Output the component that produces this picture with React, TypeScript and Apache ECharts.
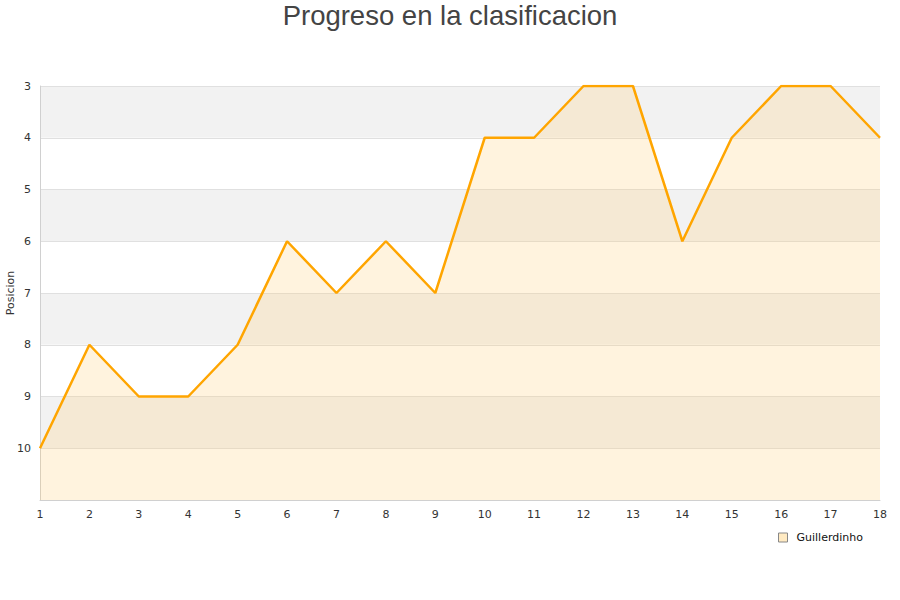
import React, { useEffect, useRef } from "react";
import * as echarts from "echarts";

const jornadas = ["1", "2", "3", "4", "5", "6", "7", "8", "9", "10", "11", "12", "13", "14", "15", "16", "17", "18"];
const posiciones = [10, 8, 9, 9, 8, 6, 7, 6, 7, 4, 4, 3, 3, 6, 4, 3, 3, 4];
const jugador = "Guillerdinho";
const titulo = "Progreso en la clasificacion";
const ejeY = "Posicion";

export default function App() {
  const ref = useRef<HTMLDivElement>(null);

  useEffect(() => {
    if (!ref.current) return;
    const chart = echarts.init(ref.current, null, { renderer: "svg" });
    chart.setOption({
      animation: false,
      title: {
        text: titulo,
        left: "center",
        top: -4,
        textStyle: {
          fontFamily: "Liberation Sans, Arial, sans-serif",
          fontSize: 27.5,
          fontWeight: "normal",
          color: "#444",
        },
      },
      grid: { left: 40, right: 20, top: 86, bottom: 100, containLabel: false, outerBoundsMode: "none" },
      legend: {
        left: 773,
        top: 527,
        icon: "rect",
        itemWidth: 9,
        itemHeight: 9,
        itemGap: 8,
        textStyle: {
          fontFamily: "DejaVu Sans, sans-serif",
          fontSize: 11,
          color: "#111",
          padding: [0, 0, 0, 4],
        },
        data: [
          {
            name: jugador,
            itemStyle: { color: "#ffeac2", borderColor: "#888", borderWidth: 1 },
          },
        ],
      },
      xAxis: {
        type: "category",
        data: jornadas,
        boundaryGap: false,
        axisLine: { lineStyle: { color: "#d0d0d0" } },
        axisTick: { show: false },
        axisLabel: {
          fontFamily: "DejaVu Sans, sans-serif",
          fontSize: 11,
          color: "#333",
          margin: 9,
        },
        splitLine: { show: false },
      },
      yAxis: {
        type: "value",
        inverse: true,
        min: 3,
        max: 11,
        interval: 1,
        name: ejeY,
        nameLocation: "middle",
        nameGap: 24,
        nameMoveOverlap: false,
        nameTextStyle: { fontFamily: "DejaVu Sans, sans-serif", fontSize: 11, color: "#333" },
        axisLine: { show: true, lineStyle: { color: "#d0d0d0" } },
        axisTick: { show: false },
        axisLabel: {
          fontFamily: "DejaVu Sans, sans-serif",
          fontSize: 11,
          color: "#333",
          margin: 9,
          formatter: (v: number) => (v === 11 ? "" : String(v)),
        },
        splitLine: { show: true, lineStyle: { color: "#e0e0e0", width: 1 } },
        splitArea: { show: true, areaStyle: { color: ["#f2f2f2", "#ffffff"] } },
      },
      series: [
        {
          name: jugador,
          type: "line",
          data: posiciones,
          symbol: "none",
          lineStyle: { color: "#ffa500", width: 2.5 },
          itemStyle: { color: "#ffa500" },
          areaStyle: { color: "rgba(255, 205, 120, 0.35)", origin: "end" },
        },
      ],
    });
    return () => chart.dispose();
  }, []);

  return <div ref={ref} style={{ width: 900, height: 600, position: "absolute", left: 0, top: 0 }} />;
}
